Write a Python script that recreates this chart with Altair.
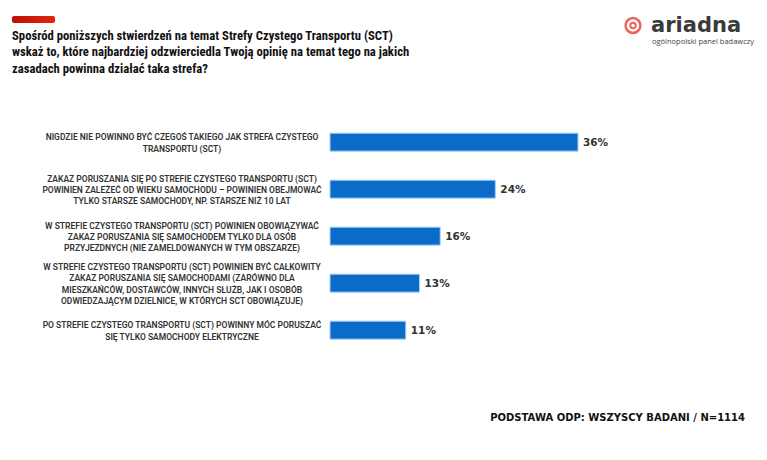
import altair as alt
import pandas as pd

categories = [
    "NIGDZIE NIE POWINNO BYĆ CZEGOŚ TAKIEGO JAK STREFA CZYSTEGO|TRANSPORTU (SCT)",
    "ZAKAZ PORUSZANIA SIĘ PO STREFIE CZYSTEGO TRANSPORTU (SCT)|POWINIEN ZALEŻEĆ OD WIEKU SAMOCHODU – POWINIEN OBEJMOWAĆ|TYLKO STARSZE SAMOCHODY, NP. STARSZE NIŻ 10 LAT",
    "W STREFIE CZYSTEGO TRANSPORTU (SCT) POWINIEN OBOWIĄZYWAĆ|ZAKAZ PORUSZANIA SIĘ SAMOCHODEM TYLKO DLA OSÓB|PRZYJEZDNYCH (NIE ZAMELDOWANYCH W TYM OBSZARZE)",
    "W STREFIE CZYSTEGO TRANSPORTU (SCT) POWINIEN BYĆ CAŁKOWITY|ZAKAZ PORUSZANIA SIĘ SAMOCHODAMI (ZARÓWNO DLA|MIESZKAŃCÓW, DOSTAWCÓW, INNYCH SŁUŻB, JAK I OSOBÓB|ODWIEDZAJĄCYM DZIELNICE, W KTÓRYCH SCT OBOWIĄZUJE)",
    "PO STREFIE CZYSTEGO TRANSPORTU (SCT) POWINNY MÓC PORUSZAĆ|SIĘ TYLKO SAMOCHODY ELEKTRYCZNE",
]
values = [36, 24, 16, 13, 11]

title_text = ("Spośród poniższych stwierdzeń na temat Strefy Czystego Transportu (SCT)\n"
              "wskaż to, które najbardziej odzwierciedla Twoją opinię na temat tego na jakich\n"
              "zasadach powinna działać taka strefa?")
footer_text = "PODSTAWA ODP: WSZYSCY BADANI / N=1114"
logo_text = "ariadna"
logo_sub = "ogólnopolski panel badawczy"

LH = 11.3
PAD_IN = 0.58
STEP = 47
HALF_BAND = STEP * (1 - PAD_IN) / 2

df = pd.DataFrame({"cat": categories, "value": values})

# one row per label line, with its line index within the label
rows = []
for c in categories:
    parts = c.split("|")
    n = len(parts)
    for i, p in enumerate(parts):
        rows.append({"cat": c, "line": p, "off": (i - (n - 1) / 2) * LH})
lines_df = pd.DataFrame(rows)

x = alt.X("value:Q", scale=alt.Scale(domain=[0, 36], nice=False, zero=True), axis=None)
y = alt.Y("cat:N", sort=categories,
          scale=alt.Scale(paddingInner=PAD_IN, paddingOuter=PAD_IN / 2), axis=None)

base = alt.Chart(df)
bars = base.mark_bar(color="#0b6bc9", stroke="#a9d2f5", strokeWidth=1).encode(x=x, y=y)
vals = base.transform_calculate(lbl="datum.value + '%'").mark_text(
    align="left", baseline="middle", dx=5, font="DejaVu Sans", fontSize=10.5,
    fontWeight="bold", color="#333333"
).encode(x=x, y=y, text="lbl:N")

labels = alt.Chart(lines_df).mark_text(
    align="center", baseline="middle", font="Roboto", fontSize=8.5, fontWeight=600,
    color="#333333"
).encode(
    x=alt.value(-148),
    y=y,
    yOffset=alt.YOffset("off:Q", scale=alt.Scale(domain=[-100, 100],
                                                 range=[-100 + HALF_BAND, 100 + HALF_BAND])),
    text="line:N",
)

one = pd.DataFrame({"k": [0]})
deco = alt.Chart(one)

title = deco.mark_text(
    align="left", baseline="alphabetic", lineBreak="\n", lineHeight=16.5,
    font="'Roboto Condensed', 'Liberation Sans Narrow', Roboto", fontSize=12.7,
    fontWeight="bold", color="#111111"
).encode(x=alt.value(-318), y=alt.value(-80), text=alt.value(title_text))

stripe = deco.mark_rect(
    color=alt.Gradient(gradient="linear", stops=[
        alt.GradientStop(color="#bb0f0a", offset=0),
        alt.GradientStop(color="#e3260c", offset=1)], x1=0, x2=1, y1=0, y2=0),
    cornerRadius=2,
).encode(x=alt.value(-318), x2=alt.value(-275), y=alt.value(-103.5), y2=alt.value(-96.5))

footer = deco.mark_text(
    align="right", baseline="middle", font="DejaVu Sans", fontSize=10,
    fontWeight="bold", color="#111111"
).encode(x=alt.value(415), y=alt.value(298.5), text=alt.value(footer_text))

ring = deco.mark_point(shape="circle", filled=False, stroke="#e0241b", strokeWidth=2.5, size=220).encode(
    x=alt.value(303), y=alt.value(-94)
)
dot = deco.mark_point(shape="circle", filled=False, stroke="#e0241b", strokeWidth=2, size=30).encode(
    x=alt.value(303), y=alt.value(-94)
)
logo = deco.mark_text(
    align="left", baseline="middle", font="DejaVu Sans", fontSize=21, fontWeight="bold",
    color="#3a3a3a"
).encode(x=alt.value(321), y=alt.value(-94), text=alt.value(logo_text))
logo2 = deco.mark_text(
    align="left", baseline="middle", font="Open Sans", fontSize=7.5, color="#444444"
).encode(x=alt.value(322), y=alt.value(-77.5), text=alt.value(logo_sub))

chart = alt.layer(bars, vals, labels, title, stripe, footer, ring, dot, logo, logo2).properties(
    width=248, height=235,
    autosize=alt.AutoSizeParams(type="none"),
    padding={"left": 322, "top": 111.5, "right": 181, "bottom": 92},
).configure(background="white", view=alt.ViewConfig(stroke=None))

chart.save("out.html", embed_options={"renderer": "svg", "actions": False})
